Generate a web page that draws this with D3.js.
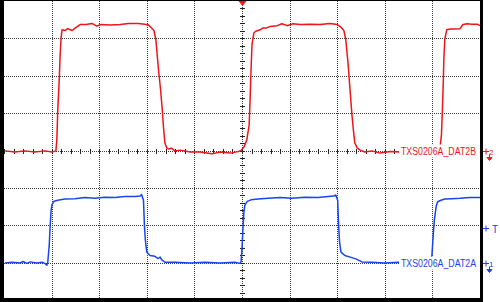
<!DOCTYPE html>
<html>
<head>
<meta charset="utf-8">
<script src="https://cdn.jsdelivr.net/npm/d3@7"></script>
<style>
  body { margin: 0; background: #fff; }
  svg { display: block; }
</style>
</head>
<body>
<svg id="scope" width="500" height="302"></svg>
<script>
// time in divisions (0..10), level in divisions (-4..4)
const redT = [0.02, 0.23, 0.44, 0.65, 0.86, 1.01, 1.09, 1.11, 1.13, 1.16, 1.18, 1.20, 1.22, 1.28, 1.34, 1.43,
  1.51, 1.60, 1.72, 1.85, 1.95, 2.04, 2.23, 2.44, 2.61, 2.82, 2.96, 3.03, 3.09, 3.15, 3.19, 3.24, 3.29,
  3.33, 3.35, 3.38, 3.42, 3.45, 3.52, 3.59, 3.70, 3.91, 4.12, 4.37, 4.54, 4.75, 4.92, 4.98, 5.04, 5.10,
  5.15, 5.17, 5.19, 5.21, 5.25, 5.29, 5.38, 5.44, 5.52, 5.59, 5.74, 5.84, 5.95, 6.07, 6.22, 6.43, 6.64,
  6.85, 7.00, 7.08, 7.14, 7.18, 7.23, 7.27, 7.31, 7.34, 7.37, 7.42, 7.48, 7.58, 7.73, 7.90, 8.11, 8.32,
  8.53, 8.84, 9.12, 9.16, 9.19, 9.21, 9.23, 9.24, 9.26, 9.30, 9.37, 9.47, 9.58, 9.64, 9.73, 9.83, 9.94, 10.0];
const redV = [-0.01, -0.04, -0.01, -0.04, -0.01, -0.04, -0.01, 0.28, 1.09, 1.89, 2.56, 3.02, 3.23, 3.21, 3.26, 3.21,
  3.29, 3.37, 3.37, 3.40, 3.33, 3.37, 3.36, 3.37, 3.40, 3.40, 3.38, 3.36, 3.29, 3.21, 2.97, 2.24, 1.62,
  1.01, 0.63, 0.20, 0.07, 0.04, 0.06, -0.01, 0.01, -0.04, -0.04, -0.09, -0.04, -0.07, -0.03, 0.0, 0.09, 0.28,
  0.68, 1.36, 2.16, 2.83, 3.15, 3.19, 3.23, 3.28, 3.28, 3.32, 3.34, 3.39, 3.34, 3.39, 3.37, 3.38, 3.37,
  3.40, 3.37, 3.30, 3.21, 2.97, 2.30, 1.62, 0.95, 0.55, 0.20, 0.07, 0.01, -0.04, -0.01, -0.07, -0.03, -0.04,
  -0.04, -0.01, -0.01, 0.07, 0.42, 1.09, 1.89, 2.43, 2.97, 3.23, 3.25, 3.25, 3.26, 3.37, 3.39, 3.38, 3.38, 3.34];

const blueT = [0.02, 0.17, 0.34, 0.40, 0.48, 0.55, 0.69, 0.80, 0.86, 0.90, 0.92, 0.95, 0.97, 0.99, 1.01, 1.05,
  1.13, 1.28, 1.49, 1.70, 1.91, 2.12, 2.33, 2.54, 2.75, 2.86, 2.89, 2.93, 2.95, 2.97, 3.00, 3.07, 3.17,
  3.24, 3.28, 3.31, 3.38, 3.59, 3.91, 4.22, 4.54, 4.85, 4.96, 4.98, 5.00, 5.02, 5.04, 5.06, 5.11, 5.19,
  5.34, 5.55, 5.80, 6.05, 6.32, 6.60, 6.81, 6.93, 6.97, 7.01, 7.03, 7.05, 7.08, 7.16, 7.29, 7.39, 7.52,
  7.73, 8.00, 8.28, 8.63, 8.95, 8.99, 9.01, 9.04, 9.08, 9.11, 9.18, 9.26, 9.41, 9.58, 9.79, 10.0];
const blueV = [-3.01, -2.99, -3.01, -2.97, -3.02, -2.98, -3.01, -2.99, -3.02, -3.07, -2.99, -2.54, -2.00, -1.60, -1.44, -1.36,
  -1.33, -1.30, -1.29, -1.26, -1.28, -1.25, -1.26, -1.23, -1.23, -1.22, -1.18, -1.33, -2.00, -2.40, -2.72, -2.81, -2.83,
  -2.89, -2.85, -2.92, -2.99, -2.99, -3.01, -2.99, -3.01, -2.99, -3.02, -2.98, -2.62, -2.08, -1.65, -1.46, -1.36, -1.32,
  -1.30, -1.28, -1.26, -1.28, -1.25, -1.26, -1.23, -1.22, -1.19, -1.33, -2.00, -2.46, -2.72, -2.81, -2.86, -2.90, -2.98,
  -2.99, -3.01, -2.99, -3.01, -3.01, -2.81, -2.40, -1.87, -1.49, -1.37, -1.33, -1.30, -1.29, -1.28, -1.26, -1.26];

const channels = [
  { name: "TXS0206A_DAT2B", id: "2", color: "#f0141c", t: redT, v: redV, ground: 0 },
  { name: "TXS0206A_DAT2A", id: "1", color: "#1a44f0", t: blueT, v: blueV, ground: -3 },
];
const triggerLevel = -2.07;

const svg = d3.select("#scope");
const width = +svg.attr("width");
const height = +svg.attr("height");
const plot = { left: 4, right: 480, top: 1, bottom: 300 };

const xScale = d3.scaleLinear().domain([0, 10]).range([plot.left, plot.right]);
const yScale = d3.scaleLinear().domain([-4, 4]).range([plot.bottom, plot.top]);
const px = (v) => Math.round(v) + 0.5;

svg.append("rect").attr("width", width).attr("height", height).attr("fill", "#fff");

// dotted graticule
const grid = svg.append("g")
  .attr("stroke", "#3a3a3a")
  .attr("stroke-width", 1)
  .attr("stroke-dasharray", "1,1");

grid.selectAll(".vgrid")
  .data(d3.range(1, 10))
  .enter()
  .append("line")
  .attr("class", "vgrid")
  .attr("x1", (d) => px(xScale(d)))
  .attr("x2", (d) => px(xScale(d)))
  .attr("y1", plot.top)
  .attr("y2", plot.bottom);

grid.selectAll(".hgrid")
  .data(d3.range(-3, 4))
  .enter()
  .append("line")
  .attr("class", "hgrid")
  .attr("y1", (d) => px(yScale(d)))
  .attr("y2", (d) => px(yScale(d)))
  .attr("x1", plot.left)
  .attr("x2", plot.right);

// minor ticks on the centre axes
const ticks = svg.append("g").attr("stroke", "#222").attr("stroke-width", 1);
const cx = px(xScale(5));
const cy = px(yScale(0));

ticks.selectAll(".xtick")
  .data(d3.range(0, 10.001, 0.2))
  .enter()
  .append("line")
  .attr("x1", (d) => px(xScale(d)))
  .attr("x2", (d) => px(xScale(d)))
  .attr("y1", cy - 2.5)
  .attr("y2", cy + 2.5);

ticks.selectAll(".ytick")
  .data(d3.range(-4, 4.001, 0.2))
  .enter()
  .append("line")
  .attr("y1", (d) => px(yScale(d)))
  .attr("y2", (d) => px(yScale(d)))
  .attr("x1", cx - 2.5)
  .attr("x2", cx + 2.5);

// traces
const line = d3
  .line()
  .x((d) => xScale(d[0]))
  .y((d) => yScale(d[1]));

channels.forEach((ch) => {
  svg.append("path")
    .datum(d3.zip(ch.t, ch.v))
    .attr("fill", "none")
    .attr("stroke", ch.color)
    .attr("stroke-width", 1.5)
    .attr("stroke-linejoin", "round")
    .attr("d", line);
});

// channel labels on a white box
channels.forEach((ch) => {
  const y = yScale(ch.ground);
  svg.append("rect")
    .attr("x", 399)
    .attr("y", y - 6)
    .attr("width", 80)
    .attr("height", 13)
    .attr("fill", "#fff");
  // narrow-looking scope font: small size, stretched vertically
  svg.append("text")
    .attr("transform", `translate(401,${y + 4.5}) scale(1,1.2)`)
    .attr("fill", ch.color)
    .attr("font-family", "Liberation Sans, Arial, sans-serif")
    .attr("font-size", 9)
    .attr("textLength", 75)
    .attr("lengthAdjust", "spacingAndGlyphs")
    .text(ch.name);
});

// frame
svg.append("rect").attr("x", 0).attr("y", 0).attr("width", plot.left).attr("height", height).attr("fill", "#000");
svg.append("rect").attr("x", 0).attr("y", 0).attr("width", plot.right + 3).attr("height", 1).attr("fill", "#000");
svg.append("rect").attr("x", plot.right).attr("y", 0).attr("width", 3).attr("height", height).attr("fill", "#000");
svg.append("rect").attr("x", 0).attr("y", 298).attr("width", plot.right + 3).attr("height", 4).attr("fill", "#000");

// trigger position marker
svg.append("path")
  .attr("d", `M${cx - 4},1 L${cx + 4},1 L${cx},6 Z`)
  .attr("fill", "#f0141c");

// ground markers on the right edge
const markers = svg.append("g").attr("font-family", "Liberation Sans, Arial, sans-serif");
channels.forEach((ch) => {
  const y = px(yScale(ch.ground));
  markers.append("path")
    .attr("d", `M483,${y} H489 M486,${y - 3} V${y + 3}`)
    .attr("stroke", ch.color)
    .attr("stroke-width", 1)
    .attr("fill", "none");
  markers.append("text")
    .attr("x", 489)
    .attr("y", y + 3)
    .attr("fill", ch.color)
    .attr("font-size", 8)
    .text(ch.id);
  markers.append("path")
    .attr("d", `M489.5,${y + 3} V${y + 6} M487,${y + 6} H492 L489.5,${y + 9} Z`)
    .attr("stroke", ch.color)
    .attr("fill", ch.color)
    .attr("stroke-width", 1);
});

// trigger level marker
const ty = px(yScale(triggerLevel));
markers.append("path")
  .attr("d", `M483,${ty} H489 M486,${ty - 3} V${ty + 3}`)
  .attr("stroke", "#1a44f0")
  .attr("fill", "none");
markers.append("text")
  .attr("x", 492)
  .attr("y", ty + 4)
  .attr("fill", "#1a44f0")
  .attr("font-size", 10)
  .text("T");
</script>
</body>
</html>
